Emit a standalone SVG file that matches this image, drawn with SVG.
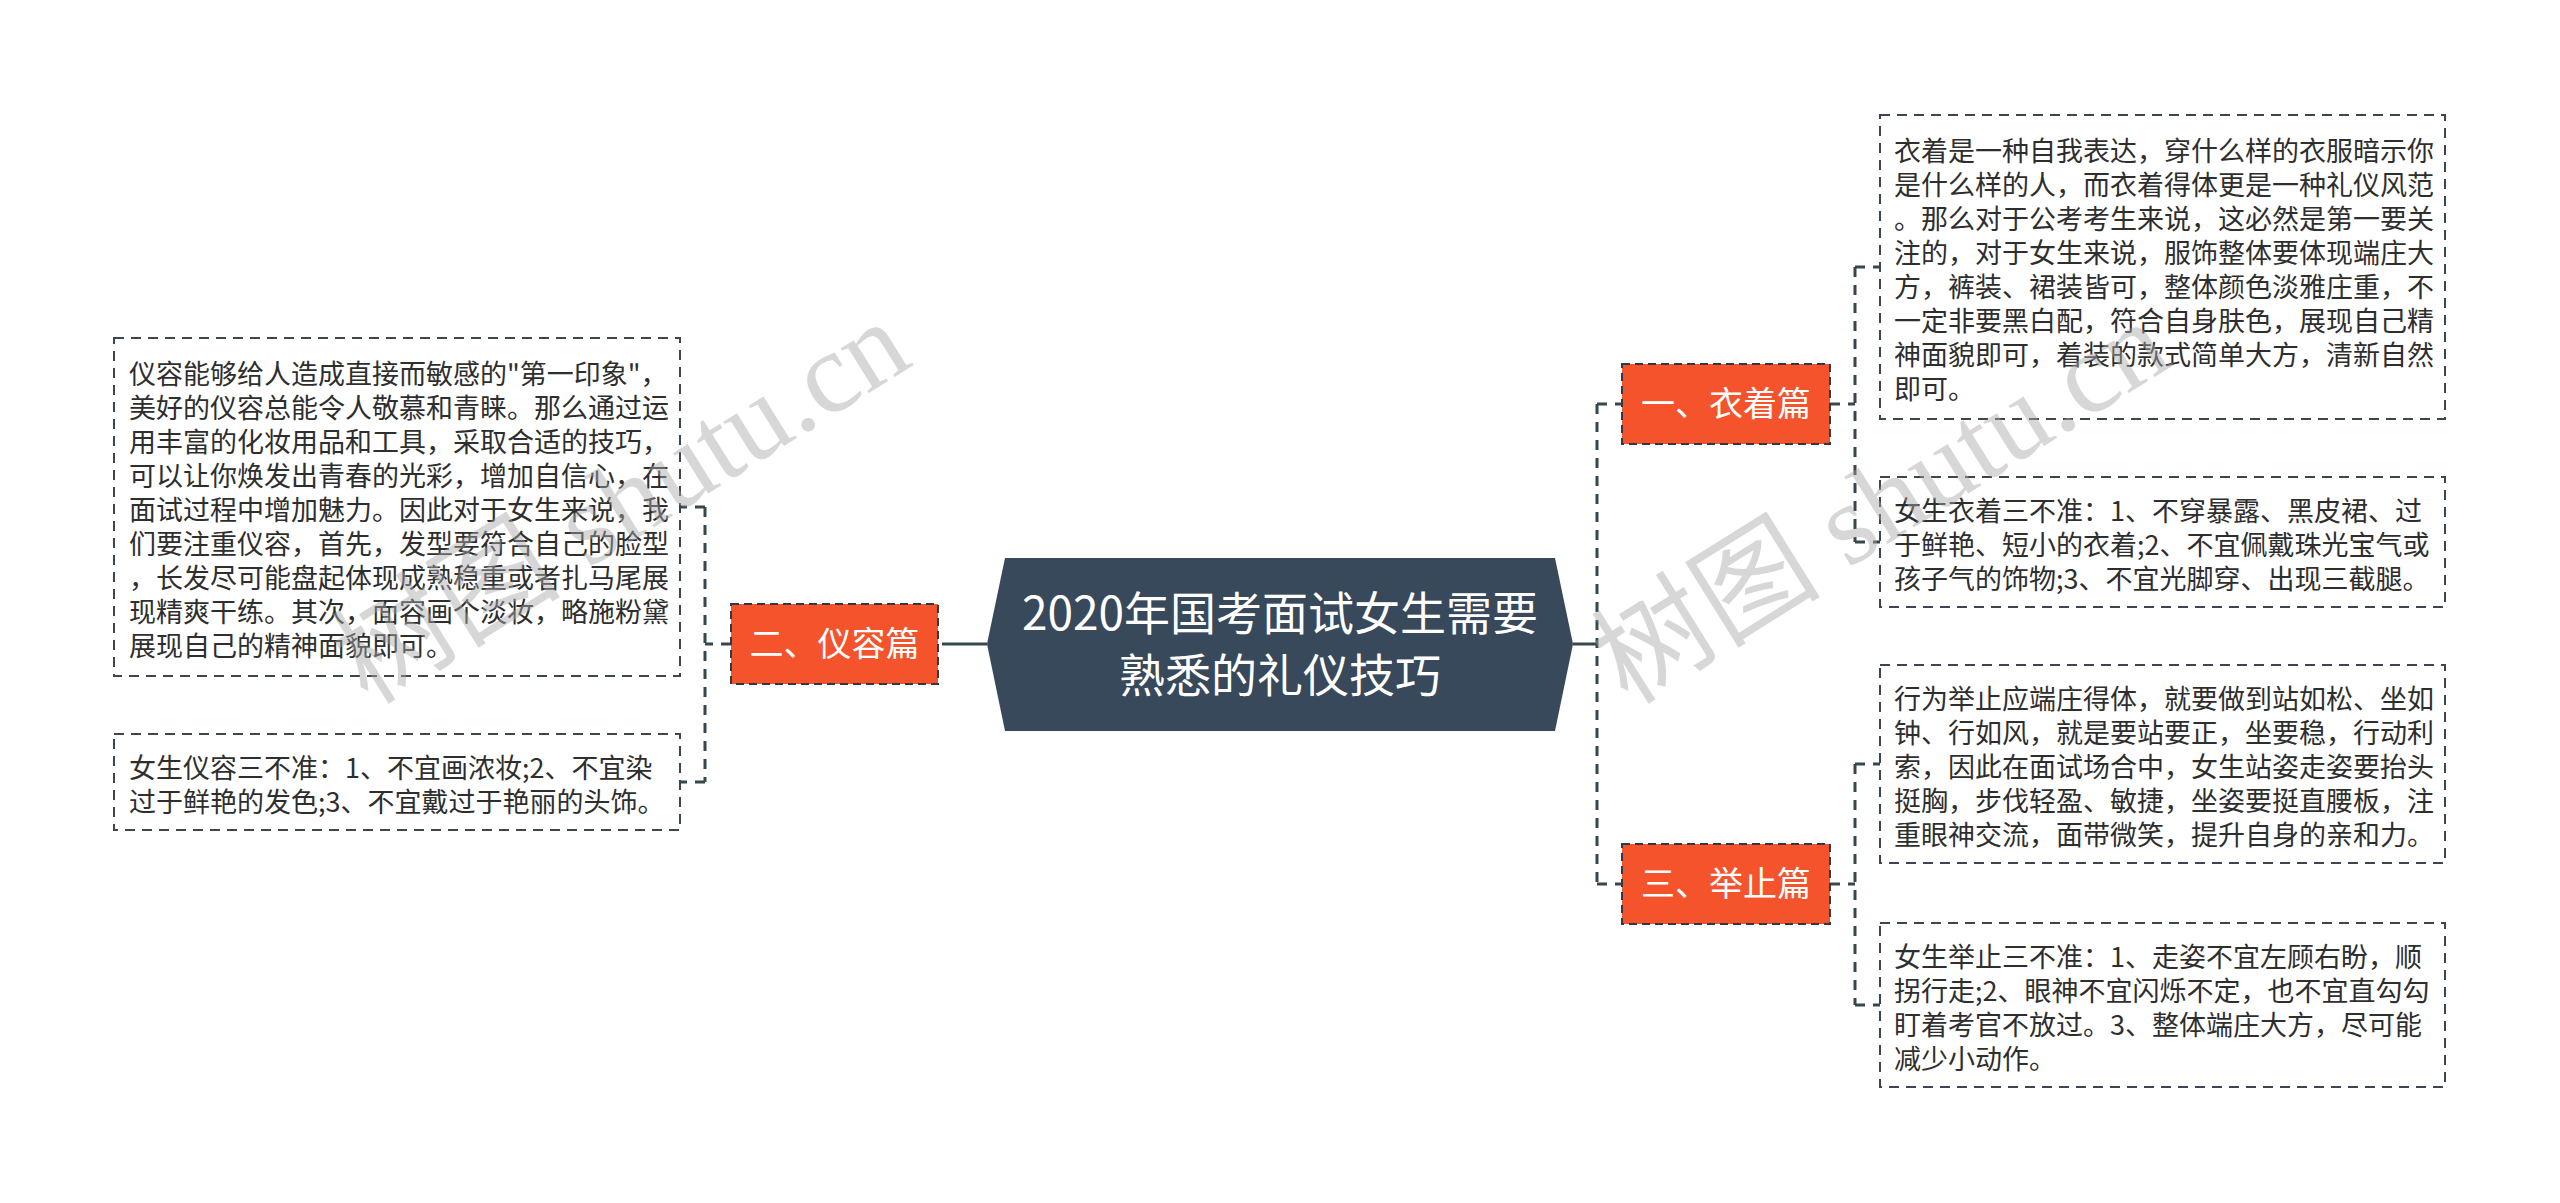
<svg xmlns="http://www.w3.org/2000/svg" width="2560" height="1203" viewBox="0 0 2560 1203">
<style>
.bg{fill:#ffffff}
.root{fill:#37495a}
.roott{font-family:"Noto Sans CJK SC","Noto Sans",sans-serif;font-size:46px;fill:#ffffff;text-anchor:middle}
.br{fill:#f4532c;stroke:#2f3a45;stroke-width:2;stroke-dasharray:8 5}
.brt{font-family:"Noto Sans CJK SC","Noto Sans",sans-serif;font-size:34px;fill:#ffffff;text-anchor:middle}
.leaf{fill:#ffffff;stroke:#3a4652;stroke-width:2;stroke-dasharray:10 7}
.lt{font-family:"Noto Sans CJK SC","Noto Sans",sans-serif;font-size:27px;fill:#2e2e2e}
.solid{fill:none;stroke:#37474f;stroke-width:3}
.dash{fill:none;stroke:#37474f;stroke-width:3;stroke-dasharray:10 8}
.wm{font-family:"Liberation Serif","Noto Sans CJK SC",serif;font-size:115px;fill:#a8a8a8;opacity:0.45}
</style>
<rect class="bg" x="0" y="0" width="2560" height="1203"/>

<g id="connectors">
  <path class="solid" d="M1573,644 H1597"/>
  <path class="dash" d="M1597,404 V884"/>
  <path class="dash" d="M1597,404 H1622 M1597,884 H1622"/>
  <path class="dash" d="M1830,404 H1855 M1855,267 V542 M1855,267 H1880 M1855,542 H1880"/>
  <path class="dash" d="M1830,884 H1855 M1855,764 V1005 M1855,764 H1880 M1855,1005 H1880"/>
  <path class="solid" d="M987,644 H952"/>
  <path class="dash" d="M952,644 H938"/>
  <path class="dash" d="M731,644 H705 M705,507 V782 M705,507 H680 M705,782 H680"/>
</g>

<g id="root">
  <polygon class="root" points="1005,558 1555,558 1573,644 1555,731 1005,731 987,644"/>
  <text class="roott" x="1280" y="630">2020年国考面试女生需要</text>
  <text class="roott" x="1280" y="692">熟悉的礼仪技巧</text>
</g>

<g id="branch-yizhuo">
  <rect class="br" x="1622" y="364" width="208" height="80"/>
  <text class="brt" x="1726" y="416">一、衣着篇</text>
</g>
<g id="branch-juzhi">
  <rect class="br" x="1622" y="844" width="208" height="80"/>
  <text class="brt" x="1726" y="896">三、举止篇</text>
</g>
<g id="branch-yirong">
  <rect class="br" x="731" y="604" width="207" height="80"/>
  <text class="brt" x="834.5" y="656">二、仪容篇</text>
</g>

<g id="leaf-yizhuo-1">
  <rect class="leaf" x="1880" y="115" width="565" height="304"/>
  <text class="lt" x="1894" y="161">衣着是一种自我表达，穿什么样的衣服暗示你</text>
  <text class="lt" x="1894" y="195">是什么样的人，而衣着得体更是一种礼仪风范</text>
  <text class="lt" x="1894" y="229">。那么对于公考考生来说，这必然是第一要关</text>
  <text class="lt" x="1894" y="263">注的，对于女生来说，服饰整体要体现端庄大</text>
  <text class="lt" x="1894" y="297">方，裤装、裙装皆可，整体颜色淡雅庄重，不</text>
  <text class="lt" x="1894" y="331">一定非要黑白配，符合自身肤色，展现自己精</text>
  <text class="lt" x="1894" y="365">神面貌即可，着装的款式简单大方，清新自然</text>
  <text class="lt" x="1894" y="399">即可。</text>
</g>
<g id="leaf-yizhuo-2">
  <rect class="leaf" x="1880" y="477" width="565" height="130"/>
  <text class="lt" x="1894" y="521">女生衣着三不准：1、不穿暴露、黑皮裙、过</text>
  <text class="lt" x="1894" y="555">于鲜艳、短小的衣着;2、不宜佩戴珠光宝气或</text>
  <text class="lt" x="1894" y="589">孩子气的饰物;3、不宜光脚穿、出现三截腿。</text>
</g>
<g id="leaf-juzhi-1">
  <rect class="leaf" x="1880" y="665" width="565" height="198"/>
  <text class="lt" x="1894" y="709">行为举止应端庄得体，就要做到站如松、坐如</text>
  <text class="lt" x="1894" y="743">钟、行如风，就是要站要正，坐要稳，行动利</text>
  <text class="lt" x="1894" y="777">索，因此在面试场合中，女生站姿走姿要抬头</text>
  <text class="lt" x="1894" y="811">挺胸，步伐轻盈、敏捷，坐姿要挺直腰板，注</text>
  <text class="lt" x="1894" y="845">重眼神交流，面带微笑，提升自身的亲和力。</text>
</g>
<g id="leaf-juzhi-2">
  <rect class="leaf" x="1880" y="923" width="565" height="164"/>
  <text class="lt" x="1894" y="967">女生举止三不准：1、走姿不宜左顾右盼，顺</text>
  <text class="lt" x="1894" y="1001">拐行走;2、眼神不宜闪烁不定，也不宜直勾勾</text>
  <text class="lt" x="1894" y="1035">盯着考官不放过。3、整体端庄大方，尽可能</text>
  <text class="lt" x="1894" y="1069">减少小动作。</text>
</g>
<g id="leaf-yirong-1">
  <rect class="leaf" x="114" y="338" width="566" height="338"/>
  <text class="lt" x="129" y="384">仪容能够给人造成直接而敏感的"第一印象"，</text>
  <text class="lt" x="129" y="418">美好的仪容总能令人敬慕和青睐。那么通过运</text>
  <text class="lt" x="129" y="452">用丰富的化妆用品和工具，采取合适的技巧，</text>
  <text class="lt" x="129" y="486">可以让你焕发出青春的光彩，增加自信心，在</text>
  <text class="lt" x="129" y="520">面试过程中增加魅力。因此对于女生来说，我</text>
  <text class="lt" x="129" y="554">们要注重仪容，首先，发型要符合自己的脸型</text>
  <text class="lt" x="129" y="588">，长发尽可能盘起体现成熟稳重或者扎马尾展</text>
  <text class="lt" x="129" y="622">现精爽干练。其次，面容画个淡妆，略施粉黛</text>
  <text class="lt" x="129" y="656">展现自己的精神面貌即可。</text>
</g>
<g id="leaf-yirong-2">
  <rect class="leaf" x="114" y="734" width="566" height="96"/>
  <text class="lt" x="129" y="778">女生仪容三不准：1、不宜画浓妆;2、不宜染</text>
  <text class="lt" x="129" y="812">过于鲜艳的发色;3、不宜戴过于艳丽的头饰。</text>
</g>

<g id="watermark">
  <text class="wm" transform="translate(368,706) rotate(-32)">树图 shutu.cn</text>
  <text class="wm" transform="translate(1628,706) rotate(-32)">树图 shutu.cn</text>
</g>
</svg>
